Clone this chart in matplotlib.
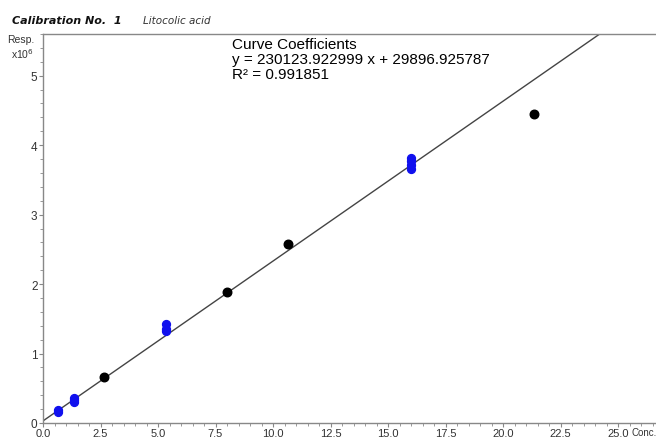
import matplotlib
matplotlib.use("Agg")
import matplotlib.pyplot as plt
import numpy as np
from matplotlib.ticker import MultipleLocator, FixedLocator

# Data
slope = 230123.922999
intercept = 29896.925787
r2 = 0.991851
black_x = [2.67, 8.0, 10.67, 21.33]
black_y = [0.66e6, 1.88e6, 2.57e6, 4.45e6]
blue_x = [0.67, 0.67, 1.33, 1.33, 1.33, 5.33, 5.33, 5.33, 16.0, 16.0, 16.0, 16.0]
blue_y = [0.16e6, 0.18e6, 0.30e6, 0.33e6, 0.36e6, 1.32e6, 1.35e6, 1.42e6,
          3.65e6, 3.72e6, 3.77e6, 3.82e6]
xticks = [0.0, 2.5, 5.0, 7.5, 10.0, 12.5, 15.0, 17.5, 20.0, 22.5, 25.0]
xtick_labels = ["0.0", "2.5", "5.0", "7.5", "10.0", "12.5", "15.0", "17.5", "20.0", "22.5", "25.0"]
yticks = [0, 1e6, 2e6, 3e6, 4e6, 5e6]
ytick_labels = ["0", "1", "2", "3", "4", "5"]

plt.rcParams['font.family'] = ['Liberation Sans', 'DejaVu Sans']

fig = plt.figure(figsize=(6.56, 4.39), dpi=100)
ax = fig.add_axes([43/656, 1 - 424/439, 1 - 43/656, (424 - 35)/439])

xmax = (656 - 43) / 23.0
ymax = 5.6e6
ax.set_xlim(0, xmax)
ax.set_ylim(0, ymax)

xl = np.array([0, xmax])
ax.plot(xl, slope * xl + intercept, color='#444444', lw=1.0, zorder=2)

ax.scatter(black_x, black_y, s=38, color='black', zorder=3)
ax.scatter(blue_x, blue_y, s=32, color='#1010ee', zorder=3, marker='o')
ax.scatter(blue_x, blue_y, s=22, color='#1010ee', zorder=3, marker='P')

gray = '#888888'
ax.spines['right'].set_visible(False)
for s in ['left', 'bottom', 'top']:
    ax.spines[s].set_color(gray)
    ax.spines[s].set_linewidth(1.0)

ax.xaxis.set_major_locator(FixedLocator(xticks))
ax.set_xticklabels(xtick_labels)
ax.xaxis.set_minor_locator(MultipleLocator(0.5))
ax.yaxis.set_major_locator(FixedLocator(yticks))
ax.set_yticklabels(ytick_labels)
ax.yaxis.set_minor_locator(MultipleLocator(0.2e6))
ax.tick_params(axis='x', which='major', direction='out', length=3, width=0.8, color=gray,
               labelsize=8, labelcolor='#333333', pad=0.5)
ax.tick_params(axis='y', which='major', direction='out', length=3, width=0.8, color=gray,
               labelsize=8.5, labelcolor='#333333', pad=1)
ax.tick_params(which='minor', direction='out', length=2, width=0.6, color=gray)

fig.text(631/656, 1 - 433/439, "Conc.", fontsize=7, color='#333333',
         ha='left', va='center')

fig.text(34/656, 1 - 40/439, "Resp.", fontsize=7.5, color='#333333', ha='right', va='center')
fig.text(34/656, 1 - 54/439, r"x10$^{6}$", fontsize=7.5, color='#333333', ha='right', va='center')

fig.text(232/656, 1 - 45/439, "Curve Coefficients", fontsize=11, ha='left', va='center')
fig.text(232/656, 1 - 60/439, "y = %.6f x + %.6f" % (slope, intercept), fontsize=11, ha='left', va='center')
fig.text(232/656, 1 - 75/439, "R\u00b2 = %.6f" % r2, fontsize=11, ha='left', va='center')

fig.text(12/656, 1 - 21/439, "Calibration No.  1", fontsize=8, fontweight='bold', style='italic',
         family='DejaVu Sans', color='#111111', ha='left', va='center')
fig.text(143/656, 1 - 21/439, "Litocolic acid", fontsize=7.5, style='italic',
         family='DejaVu Sans', color='#333333', ha='left', va='center')

fig.savefig("out.png", dpi=100)
